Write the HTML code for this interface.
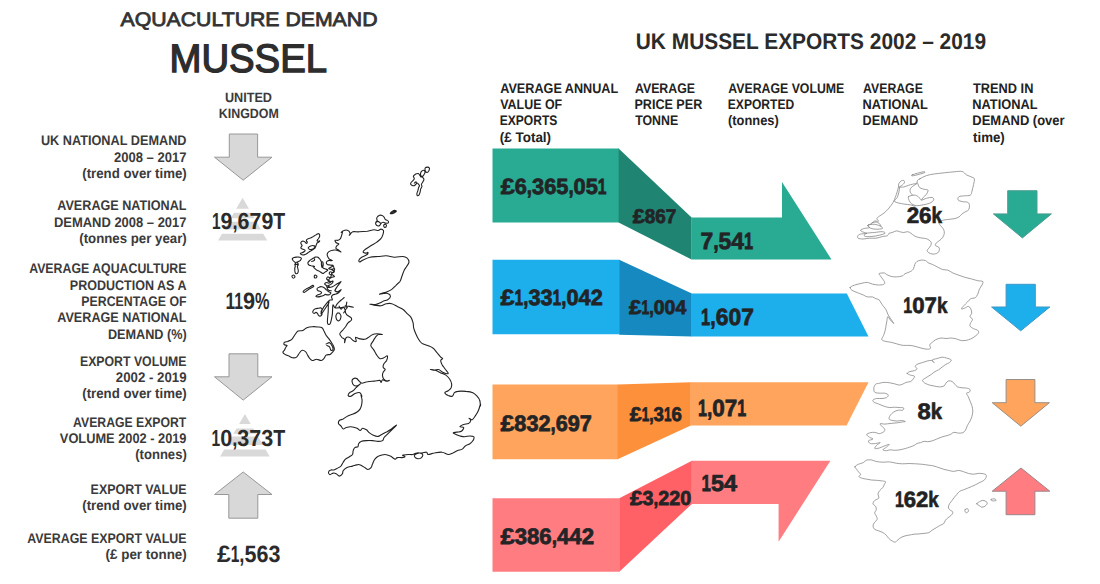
<!DOCTYPE html>
<html lang="en">
<head>
<meta charset="utf-8">
<title>Aquaculture Demand - Mussel</title>
<style>
html,body{margin:0;padding:0;background:#fff;}
body{width:1100px;height:584px;overflow:hidden;}
svg{display:block;font-family:"Liberation Sans",sans-serif;}
</style>
</head>
<body>
<svg width="1100" height="584" viewBox="0 0 1100 584">
<rect width="1100" height="584" fill="#ffffff"/>
<g id="shapes">
<polygon points="492.5,148.4 619.0,148.4 619.0,222.6 492.5,222.6" fill="#29AB93"/>
<polygon points="618.6,148.4 691.6,217.5 691.6,259.5 618.6,222.6" fill="#1F8572"/>
<polygon points="691.4,217.5 782.0,217.5 782.0,182.0 831.5,259.5 691.4,259.5" fill="#29AB93"/>
<polygon points="492.5,259.8 619.5,259.8 619.5,334.2 492.5,334.2" fill="#1DAFEC"/>
<polygon points="619.2,259.8 691.8,293.4 691.8,336.4 619.2,334.8" fill="#1589C0"/>
<polygon points="691.5,293.4 846.8,293.4 868.5,336.4 691.5,336.4" fill="#1DAFEC"/>
<polygon points="492.5,384.6 618.0,384.6 618.0,459.2 492.5,459.2" fill="#FEA45D"/>
<polygon points="617.6,384.6 690.8,382.2 690.8,425.4 617.6,459.2" fill="#FD903B"/>
<polygon points="690.5,382.2 868.5,382.2 846.6,425.4 690.5,425.4" fill="#FEA45D"/>
<polygon points="492.5,498.3 619.6,498.3 619.6,571.7 492.5,571.7" fill="#FF7D81"/>
<polygon points="619.3,498.3 691.9,460.8 691.9,503.9 619.3,571.7" fill="#FF6166"/>
<polygon points="691.6,460.8 830.4,460.8 778.6,541.7 778.6,503.9 691.6,503.9" fill="#FF7D81"/>
<polygon points="229.3,134.0 257.6,134.0 257.6,157.2 272.0,157.2 243.2,180.2 214.5,157.2 229.3,157.2" fill="#d8d8d8" stroke="#989898" stroke-width="1"/>
<polygon points="229.0,353.8 257.8,353.8 257.8,376.8 272.0,376.8 243.2,400.1 214.5,376.8 229.0,376.8" fill="#d8d8d8" stroke="#989898" stroke-width="1"/>
<polygon points="243.2,472.0 272.0,494.5 257.8,494.5 257.8,518.2 228.8,518.2 228.8,494.5 214.5,494.5" fill="#d8d8d8" stroke="#989898" stroke-width="1"/>
<polygon points="1007.7,190.7 1037.0,190.7 1037.0,213.9 1051.4,213.9 1022.4,237.9 993.4,213.9 1007.7,213.9" fill="#29AB93" stroke="#4f9d90" stroke-width="1"/>
<polygon points="1006.1,284.3 1035.3,284.3 1035.3,307.0 1049.8,307.0 1020.7,330.8 991.6,307.0 1006.1,307.0" fill="#1DAFEC" stroke="#3f97c4" stroke-width="1"/>
<polygon points="1006.1,379.5 1034.9,379.5 1034.9,402.7 1049.4,402.7 1020.8,426.2 992.2,402.7 1006.1,402.7" fill="#FEA45D" stroke="#9a8f86" stroke-width="1"/>
<polygon points="1021.0,468.0 1049.8,491.2 1034.9,491.2 1034.9,514.7 1006.1,514.7 1006.1,491.2 992.2,491.2" fill="#FF7D81" stroke="#9a8688" stroke-width="1"/>
<polygon points="242.6,197.7 242.6,197.7 249.0,208.8 236.2,208.8" fill="#d9d9d9"/><polygon points="233.9,212.8 251.3,212.8 254.4,218.3 230.8,218.3" fill="#d9d9d9"/><polygon points="228.8,221.8 256.4,221.8 260.9,229.6 224.3,229.6" fill="#d9d9d9"/><polygon points="222.0,233.7 263.2,233.7 267.2,240.6 218.0,240.6" fill="#d9d9d9"/>
<polygon points="244.9,414.0 244.9,414.0 250.7,424.0 239.1,424.0" fill="#d9d9d9"/><polygon points="236.5,428.4 253.3,428.4 256.5,433.8 233.3,433.8" fill="#d9d9d9"/><polygon points="231.7,436.5 258.1,436.5 263.0,445.0 226.8,445.0" fill="#d9d9d9"/><polygon points="224.2,449.4 265.6,449.4 269.7,456.4 220.1,456.4" fill="#d9d9d9"/>
</g>
<g id="maps" fill="none" stroke-linejoin="round" stroke-linecap="round">
<path d="M341.2,232.5C341.4,232.4 342.8,230.8 343.9,230.5C345.0,230.1 347.0,230.0 348.0,230.5C349.0,230.9 349.8,232.4 350.1,233.2C350.3,234.0 348.9,235.5 349.4,235.3C349.8,235.0 351.2,232.4 352.8,231.8C354.4,231.3 356.6,232.0 359.0,231.8C361.4,231.7 364.7,231.5 367.2,231.2C369.7,230.8 372.2,229.9 374.0,229.8C375.9,229.7 377.0,230.6 378.2,230.5C379.3,230.4 380.0,229.1 380.9,229.1C381.8,229.1 383.0,229.6 383.4,230.5C383.7,231.4 383.4,233.2 382.9,234.6C382.5,236.0 381.9,237.4 380.9,238.7C379.9,240.0 378.4,241.0 376.8,242.1C375.2,243.3 373.1,244.4 371.3,245.5C369.5,246.7 367.2,247.9 365.8,249.0C364.5,250.0 363.1,251.0 363.1,251.7C363.1,252.4 365.0,253.0 365.8,253.1C366.6,253.2 367.6,252.2 367.9,252.4C368.1,252.6 368.2,253.7 367.2,254.5C366.2,255.3 363.1,256.3 361.7,257.2C360.3,258.1 359.3,259.1 359.0,259.9C358.6,260.7 359.0,262.0 359.7,262.0C360.3,262.0 361.4,260.7 363.1,259.9C364.8,259.1 367.4,257.8 369.9,257.2C372.4,256.6 375.4,256.7 378.2,256.5C380.9,256.3 383.6,255.7 386.4,255.8C389.1,255.9 391.8,257.1 394.6,257.2C397.3,257.3 400.8,256.4 402.8,256.5C404.9,256.6 405.9,257.0 406.9,257.9C407.9,258.8 409.0,260.6 409.0,262.0C409.0,263.4 407.7,264.7 406.9,266.1C406.1,267.5 405.0,268.6 404.2,270.2C403.4,271.8 402.8,273.9 402.1,275.7C401.4,277.5 401.1,279.6 400.1,281.2C399.0,282.8 397.3,283.9 396.0,285.3C394.6,286.6 393.2,288.4 391.8,289.4C390.5,290.4 389.1,290.9 387.7,291.4C386.4,292.0 385.0,292.4 383.6,292.8C382.3,293.3 379.5,294.1 379.5,294.2C379.5,294.3 382.3,293.6 383.6,293.5C385.0,293.4 386.6,293.0 387.7,293.5C388.9,293.9 390.5,295.2 390.5,296.2C390.5,297.3 388.9,298.9 387.7,299.7C386.6,300.5 385.0,300.5 383.6,301.0C382.3,301.6 380.9,302.5 379.5,303.1C378.2,303.7 377.0,304.3 375.4,304.5C373.8,304.6 370.2,304.1 369.9,304.2C369.7,304.3 372.2,304.8 374.0,305.1C375.9,305.3 378.8,306.0 380.9,305.8C382.9,305.5 384.5,304.0 386.4,303.7C388.2,303.4 390.0,303.2 391.8,303.7C393.7,304.2 395.5,305.5 397.3,306.4C399.2,307.4 401.2,308.0 402.8,309.2C404.4,310.3 405.5,311.9 406.9,313.3C408.3,314.7 410.0,315.8 411.0,317.4C412.1,319.0 412.6,321.1 413.1,322.9C413.5,324.7 413.3,326.5 413.8,328.4C414.2,330.2 415.0,332.0 415.8,333.8C416.6,335.7 417.5,337.7 418.6,339.3C419.6,340.9 420.5,342.4 422.0,343.4C423.5,344.5 425.8,344.7 427.7,345.5C429.5,346.3 431.6,347.0 433.2,348.2C434.7,349.5 436.0,351.5 437.3,353.0C438.5,354.5 439.8,356.2 440.7,357.1C441.6,358.0 442.7,357.9 442.7,358.5C442.7,359.1 440.8,359.5 440.7,360.5C440.6,361.6 441.3,363.2 442.1,364.7C442.9,366.1 444.5,368.0 445.5,369.5C446.5,370.9 448.7,373.1 448.2,373.6C447.8,374.0 444.3,372.9 442.7,372.2C441.1,371.5 440.0,369.8 438.6,369.5C437.3,369.1 435.9,370.1 434.5,370.1C433.2,370.1 430.2,369.4 430.4,369.5C430.6,369.5 434.2,369.8 435.9,370.4C437.6,371.0 439.1,372.1 440.7,372.9C442.3,373.6 444.0,373.9 445.5,374.9C447.0,376.0 448.6,377.6 449.6,379.0C450.6,380.5 451.4,382.4 451.6,383.8C451.9,385.3 451.5,386.8 451.0,387.9C450.4,389.1 449.2,389.9 448.2,390.7C447.2,391.5 444.8,391.9 444.8,392.7C444.8,393.5 447.0,394.9 448.2,395.5C449.5,396.1 451.3,396.6 452.3,396.2C453.4,395.7 453.5,393.5 454.4,392.7C455.3,391.9 455.9,391.6 457.8,391.4C459.7,391.1 463.5,391.1 466.0,391.4C468.5,391.6 471.1,391.9 472.9,392.7C474.7,393.5 475.8,394.9 477.0,396.2C478.1,397.4 479.2,398.7 479.7,400.3C480.3,401.9 480.3,405.1 480.4,405.8C480.5,406.4 480.8,403.5 480.4,404.3C480.1,405.1 479.3,408.5 478.4,410.5C477.6,412.4 476.4,414.3 475.3,415.9C474.3,417.4 473.3,419.3 472.2,419.7C471.2,420.1 469.4,418.1 469.1,418.2C468.9,418.3 470.8,419.6 470.7,420.5C470.6,421.4 469.5,422.9 468.4,423.6C467.2,424.2 465.2,423.9 463.7,424.4C462.3,424.9 459.9,426.2 459.9,426.7C459.9,427.2 463.5,426.7 463.7,427.5C464.0,428.2 462.6,430.5 461.4,431.3C460.3,432.1 458.2,431.8 456.8,432.1C455.4,432.4 453.4,432.5 453.2,432.9C453.1,433.3 454.9,433.9 456.0,434.4C457.1,434.9 458.5,435.6 459.9,436.0C461.3,436.3 462.8,436.7 464.5,436.7C466.2,436.7 468.4,436.0 469.9,436.0C471.5,436.0 473.3,436.0 473.8,436.7C474.3,437.5 473.7,439.4 473.0,440.6C472.4,441.8 471.2,442.8 469.9,443.7C468.6,444.6 466.6,445.1 465.3,446.0C464.0,446.9 463.5,448.3 462.2,449.1C460.9,449.9 459.1,450.0 457.6,450.6C456.0,451.3 454.5,452.3 452.9,453.0C451.4,453.6 450.1,454.6 448.3,454.5C446.5,454.4 444.4,452.4 442.1,452.2C439.8,451.9 436.7,452.6 434.4,453.0C432.1,453.3 429.5,454.6 428.2,454.5C426.9,454.4 427.7,452.4 426.6,452.2C425.6,451.9 423.7,452.8 422.0,453.0C420.3,453.1 418.1,452.7 416.6,453.0C415.1,453.2 414.2,454.2 412.7,454.5C411.3,454.8 409.8,454.4 408.1,454.5C406.4,454.6 403.2,454.9 402.7,455.3C402.2,455.7 405.1,456.4 405.0,456.8C404.9,457.2 403.2,457.5 401.9,457.6C400.6,457.7 398.4,457.3 397.3,457.6C396.1,457.9 396.1,459.4 395.0,459.1C393.8,458.9 392.0,456.8 390.3,456.1C388.7,455.3 386.8,454.5 384.9,454.5C383.0,454.5 380.4,455.3 378.7,456.1C377.1,456.8 375.9,457.9 374.9,459.1C373.8,460.4 373.2,462.4 372.6,463.8C371.9,465.2 371.8,466.7 371.0,467.6C370.2,468.6 368.9,469.5 367.9,469.5C366.9,469.5 366.0,468.3 364.8,467.6C363.7,466.9 362.1,465.8 361.0,465.3C359.8,464.8 359.3,464.4 357.9,464.6C356.5,464.7 354.3,465.6 352.5,466.1C350.7,466.6 348.6,466.9 347.0,467.6C345.5,468.4 344.0,469.7 343.2,470.7C342.4,471.8 343.1,472.9 342.4,473.8C341.8,474.7 340.4,476.1 339.3,476.1C338.3,476.1 337.3,474.3 336.2,473.8C335.2,473.3 334.2,472.9 333.1,473.1C332.1,473.2 330.8,474.7 330.0,474.6C329.3,474.5 328.4,473.1 328.5,472.3C328.6,471.5 329.9,470.3 330.8,470.0C331.7,469.6 332.9,470.2 333.9,470.0C334.9,469.7 335.8,469.1 337.0,468.4C338.2,467.8 339.8,467.1 340.9,466.1C341.9,465.1 342.4,463.4 343.2,462.2C344.0,461.1 344.5,460.0 345.5,459.1C346.5,458.2 348.2,457.6 349.4,456.8C350.5,456.1 351.8,455.5 352.5,454.5C353.1,453.5 352.8,451.8 353.2,450.6C353.6,449.5 354.0,448.2 354.8,447.6C355.5,446.9 357.2,447.4 357.9,446.8C358.5,446.1 358.1,444.6 358.6,443.7C359.2,442.8 359.7,441.9 361.0,441.4C362.2,440.9 364.4,440.7 366.4,440.6C368.3,440.5 370.6,440.5 372.6,440.6C374.5,440.7 376.3,441.4 378.0,441.4C379.6,441.4 381.6,441.2 382.6,440.6C383.6,440.0 383.2,438.7 384.1,437.5C385.0,436.3 386.6,435.1 388.0,433.6C389.4,432.2 391.2,430.4 392.6,429.0C394.1,427.6 396.2,425.5 396.5,425.1C396.8,424.8 395.2,425.9 394.2,426.7C393.2,427.5 391.6,428.9 390.3,429.8C389.0,430.7 387.9,431.3 386.5,432.1C385.0,432.9 383.2,433.7 381.8,434.4C380.4,435.1 379.4,436.3 378.0,436.4C376.5,436.6 374.7,435.8 373.3,435.2C371.9,434.6 370.6,433.8 369.5,432.9C368.3,432.0 367.5,430.5 366.4,429.8C365.2,429.0 363.5,428.1 362.5,428.2C361.5,428.4 361.1,430.5 360.2,430.5C359.3,430.5 358.6,428.9 357.1,428.2C355.5,427.6 352.7,426.8 350.9,426.7C349.1,426.6 347.6,427.1 346.3,427.5C345.0,427.8 344.1,429.3 343.2,429.0C342.3,428.7 341.6,426.8 340.9,425.9C340.1,425.0 338.8,424.5 338.5,423.6C338.3,422.7 338.5,421.3 339.3,420.5C340.1,419.7 341.8,419.7 343.2,419.0C344.6,418.2 346.3,416.6 347.8,415.9C349.4,415.1 350.9,415.0 352.5,414.3C354.0,413.7 355.8,412.9 357.1,412.0C358.4,411.1 359.4,410.2 360.2,408.9C361.0,407.6 361.4,405.8 361.7,404.3C362.0,402.7 362.2,401.2 362.0,399.6C361.9,398.1 361.0,395.6 361.0,395.0C360.9,394.4 362.1,396.5 361.9,396.2C361.7,395.8 361.0,393.2 359.9,392.7C358.7,392.3 356.6,392.9 355.1,393.4C353.6,394.0 352.1,395.8 351.0,396.2C349.8,396.5 348.4,396.1 348.2,395.5C348.0,394.9 348.8,393.5 349.6,392.7C350.4,391.9 351.9,391.6 353.0,390.7C354.2,389.8 355.2,388.4 356.4,387.3C357.7,386.1 360.4,384.1 360.5,383.8C360.7,383.6 358.3,385.7 357.1,385.9C356.0,386.1 354.5,385.9 353.7,385.2C352.9,384.5 352.2,382.8 352.1,381.8C351.9,380.8 352.3,379.6 353.0,379.0C353.7,378.5 355.4,378.0 356.4,378.4C357.5,378.7 358.3,380.3 359.2,381.1C360.1,381.9 360.5,383.0 361.9,383.2C363.3,383.3 365.3,382.1 367.4,381.8C369.5,381.4 372.2,381.3 374.2,381.1C376.3,380.9 378.6,380.2 379.7,380.4C380.9,380.6 380.6,382.6 381.1,382.5C381.6,382.4 381.7,380.0 382.5,379.7C383.3,379.5 384.7,381.0 385.9,381.1C387.0,381.2 389.1,380.4 389.3,380.4C389.5,380.4 388.2,381.3 387.3,381.1C386.3,380.9 384.6,380.0 383.8,379.0C383.0,378.1 382.6,376.8 382.5,375.6C382.4,374.5 382.7,373.2 383.2,372.2C383.6,371.2 385.2,370.3 385.2,369.5C385.2,368.7 383.4,368.3 383.2,367.4C382.9,366.5 383.3,365.1 383.8,364.0C384.4,362.8 386.0,361.9 386.6,360.5C387.1,359.2 387.7,356.2 387.3,355.8C386.8,355.3 385.1,357.4 383.8,357.8C382.6,358.3 381.0,359.1 379.7,358.5C378.5,357.9 377.3,355.9 376.3,354.4C375.3,352.9 374.5,351.1 373.6,349.6C372.6,348.1 370.9,346.8 370.8,345.5C370.7,344.1 372.1,342.7 372.9,341.4C373.6,340.0 374.5,338.4 375.4,337.3C376.3,336.1 377.0,335.0 378.2,334.5C379.3,334.1 382.5,334.6 382.3,334.5C382.0,334.4 378.4,333.8 376.8,333.8C375.2,333.8 374.0,333.9 372.7,334.5C371.3,335.1 369.9,336.5 368.6,337.3C367.2,338.1 366.1,339.1 364.5,339.3C362.9,339.5 360.5,339.0 359.0,338.6C357.5,338.3 356.0,336.8 355.5,337.3C355.1,337.7 356.6,340.8 356.2,341.4C355.9,341.9 354.6,341.4 353.5,340.7C352.4,340.0 350.6,337.7 349.4,337.3C348.1,336.8 346.8,337.0 346.0,337.9C345.2,338.9 344.8,342.5 344.6,342.7C344.4,343.0 345.0,340.2 344.6,339.3C344.1,338.4 342.6,338.2 341.8,337.3C341.1,336.3 339.7,335.0 339.8,333.8C339.9,332.7 341.6,331.6 342.5,330.4C343.4,329.3 344.4,328.2 345.3,327.0C346.2,325.7 347.0,324.0 348.0,322.9C349.0,321.7 351.0,321.1 351.4,320.1C351.9,319.2 351.6,318.3 350.8,317.4C350.0,316.5 347.6,315.8 346.6,314.7C345.7,313.5 345.2,311.8 345.3,310.5C345.4,309.3 347.6,307.7 347.3,307.1C347.1,306.6 345.3,307.0 343.9,307.1C342.5,307.2 340.6,307.7 339.1,307.8C337.6,307.9 336.0,308.3 335.0,307.8C334.0,307.4 333.4,303.9 332.9,305.1C332.5,306.2 332.7,311.6 332.3,314.7C331.8,317.7 331.0,322.2 330.2,323.6C329.4,324.9 327.8,324.8 327.5,322.9C327.1,320.9 327.9,315.6 328.2,311.9C328.4,308.3 328.1,303.0 328.8,301.0C329.5,299.0 331.8,300.6 332.3,299.9C332.7,299.2 331.4,297.8 331.5,297.0C331.7,296.2 332.3,295.3 333.0,294.8C333.7,294.3 334.9,294.5 335.9,294.1C336.9,293.7 338.0,293.4 338.8,292.6C339.7,291.9 341.2,289.8 341.0,289.7C340.8,289.6 338.3,291.8 337.4,291.9C336.4,292.0 335.3,291.2 335.2,290.5C335.1,289.7 336.0,288.5 336.6,287.5C337.2,286.6 338.1,285.6 338.8,284.6C339.5,283.7 340.9,282.1 341.0,281.7C341.1,281.4 340.4,282.0 339.5,282.5C338.7,282.9 337.1,283.9 335.9,284.6C334.7,285.4 333.4,286.3 332.3,286.8C331.2,287.3 330.3,287.5 329.4,287.5C328.4,287.5 326.6,287.2 326.5,286.8C326.3,286.5 327.8,285.8 328.6,285.4C329.5,284.9 330.8,284.6 331.5,283.9C332.3,283.2 333.1,281.4 333.0,281.0C332.9,280.6 331.7,281.7 330.8,281.7C330.0,281.7 328.2,281.5 327.9,281.0C327.7,280.5 328.8,279.4 329.4,278.8C330.0,278.2 330.7,277.7 331.5,277.4C332.4,277.0 334.2,277.0 334.5,276.6C334.7,276.3 333.5,275.7 333.0,275.2C332.5,274.7 331.4,274.3 331.5,273.7C331.7,273.1 333.2,272.4 333.7,271.5C334.2,270.7 334.8,269.0 334.5,268.6C334.1,268.3 332.5,269.4 331.5,269.4C330.6,269.4 328.8,269.0 328.6,268.6C328.5,268.3 330.1,267.7 330.8,267.2C331.5,266.7 333.1,266.1 333.0,265.7C332.9,265.4 331.1,265.2 330.1,265.0C329.1,264.8 327.8,264.8 327.2,264.3C326.6,263.8 326.2,262.7 326.5,262.1C326.7,261.5 327.7,260.9 328.6,260.6C329.6,260.4 332.2,260.9 332.3,260.6C332.4,260.4 330.1,259.8 329.4,259.2C328.6,258.6 328.3,257.8 327.9,257.0C327.5,256.2 327.1,254.9 327.2,254.1C327.3,253.2 327.9,252.5 328.6,251.9C329.4,251.3 330.5,250.8 331.5,250.5C332.6,250.1 334.0,249.9 335.2,250.0C336.4,250.1 337.8,250.6 338.8,250.9C339.8,251.2 341.1,252.1 341.0,251.9C340.9,251.7 338.9,250.3 338.1,249.7C337.2,249.1 336.2,248.9 335.9,248.3C335.7,247.7 336.2,246.8 336.6,246.1C337.1,245.4 338.9,244.5 338.8,243.9C338.7,243.3 336.5,243.1 335.9,242.5C335.3,241.8 334.8,240.6 335.2,240.3C335.5,239.9 337.2,240.5 338.1,240.3C338.9,240.0 339.7,239.7 340.3,238.8C340.9,238.0 341.4,236.4 341.7,235.2C342.1,234.0 342.5,232.0 342.5,231.5C342.4,231.1 340.9,232.7 341.2,232.5Z M338.4,312.9C339.1,312.9 340.1,313.9 340.5,314.7C340.9,315.4 341.1,316.4 340.9,317.4C340.7,318.4 340.1,319.9 339.5,320.4C338.9,320.9 337.9,320.9 337.3,320.4C336.7,319.9 336.1,318.4 336.0,317.4C335.8,316.4 336.0,315.1 336.4,314.4C336.8,313.6 337.7,312.8 338.4,312.9Z M328.8,301.1C328.5,301.0 327.8,301.9 327.2,302.6C326.6,303.3 325.9,304.2 325.2,305.2C324.5,306.1 323.7,307.2 323.1,308.2C322.5,309.3 321.9,310.4 321.6,311.3C321.2,312.3 320.9,313.7 321.1,313.9C321.2,314.1 322.0,313.1 322.6,312.4C323.2,311.6 324.0,310.3 324.7,309.3C325.4,308.2 326.0,307.2 326.7,306.2C327.4,305.2 328.4,304.0 328.8,303.1C329.1,302.3 329.0,301.1 328.8,301.1Z M313.4,310.3C313.8,309.7 314.6,309.1 315.4,308.8C316.3,308.4 317.6,308.4 318.5,308.2C319.4,308.1 320.0,307.6 320.6,307.7C321.2,307.9 322.0,308.6 322.1,309.3C322.2,310.0 321.1,311.1 321.1,311.8C321.1,312.6 322.2,313.2 322.1,313.9C322.0,314.6 321.2,315.7 320.6,316.0C320.0,316.2 319.0,315.9 318.5,315.4C318.0,315.0 317.9,313.9 317.5,313.4C317.0,312.9 316.4,312.4 315.9,312.4C315.4,312.4 314.9,313.4 314.4,313.4C313.9,313.4 313.0,312.9 312.8,312.4C312.7,311.8 312.9,310.9 313.4,310.3Z M285.0,342.1C285.6,341.8 286.6,341.8 287.7,341.4C288.9,340.9 290.7,340.3 291.8,339.3C293.0,338.3 293.6,336.6 294.6,335.2C295.6,333.8 296.6,331.9 298.0,331.1C299.4,330.3 301.3,331.0 302.8,330.4C304.3,329.8 305.3,328.3 306.9,327.7C308.5,327.1 310.6,326.8 312.4,326.7C314.2,326.6 316.3,326.8 317.9,327.0C319.5,327.1 321.0,327.0 322.0,327.7C323.0,328.4 323.4,329.8 324.0,331.1C324.7,332.4 325.3,333.9 326.1,335.2C326.9,336.5 327.9,337.4 328.8,338.6C329.7,339.9 330.8,341.5 331.6,342.7C332.4,344.0 333.2,345.0 333.6,346.2C334.1,347.3 334.5,348.6 334.3,349.6C334.1,350.6 332.9,351.5 332.3,352.3C331.6,353.1 331.2,353.9 330.2,354.4C329.2,354.8 327.1,354.4 326.1,355.1C325.1,355.8 324.8,357.6 324.0,358.5C323.2,359.4 322.6,360.4 321.3,360.5C320.0,360.7 318.0,359.2 316.5,359.2C315.0,359.2 313.5,360.7 312.4,360.5C311.3,360.4 310.5,359.4 309.7,358.5C308.9,357.6 308.3,356.2 307.6,355.1C306.9,353.9 306.5,352.4 305.5,351.6C304.6,350.8 303.2,350.0 302.1,350.3C301.1,350.5 300.3,351.9 299.4,353.0C298.5,354.2 297.8,356.3 296.6,357.1C295.5,357.9 293.9,358.0 292.5,357.8C291.2,357.6 289.7,356.3 288.4,355.8C287.2,355.2 285.9,355.0 285.0,354.4C284.1,353.8 283.1,353.0 282.9,352.3C282.8,351.6 283.9,351.1 284.3,350.3C284.8,349.5 285.2,348.3 285.7,347.5C286.1,346.7 287.3,345.9 287.1,345.5C286.8,345.0 284.8,345.2 284.3,344.8C283.8,344.4 283.8,343.6 283.9,343.2C284.0,342.7 284.4,342.4 285.0,342.1Z M326.1,344.1C326.7,343.9 328.5,342.4 329.5,342.7C330.5,343.1 331.7,345.0 332.3,346.2C332.8,347.3 333.2,348.9 332.9,349.6C332.7,350.3 331.5,350.7 330.9,350.3C330.3,349.8 330.2,347.6 329.5,346.8C328.8,346.1 327.2,345.7 326.8,345.5 M318.4,233.6C318.0,233.6 317.3,234.1 316.7,234.4C316.0,234.8 315.3,235.3 314.5,235.7C313.8,236.1 313.1,236.6 312.4,237.0C311.7,237.4 311.0,237.8 310.3,238.1C309.5,238.4 308.7,238.5 308.1,238.7C307.5,238.9 307.1,239.2 306.8,239.6C306.6,239.9 306.3,240.4 306.4,240.8C306.5,241.3 307.3,241.7 307.3,242.1C307.3,242.6 306.8,243.4 306.4,243.4C306.1,243.4 305.6,242.5 305.1,242.1C304.7,241.8 304.3,241.4 303.8,241.3C303.3,241.1 302.6,241.1 302.1,241.3C301.6,241.5 301.0,242.1 300.8,242.6C300.7,243.1 301.1,243.8 301.3,244.3C301.5,244.8 302.1,245.1 302.1,245.6C302.1,246.0 301.5,246.4 301.3,246.8C301.1,247.3 300.7,247.8 300.8,248.1C301.0,248.5 301.6,248.8 302.1,249.0C302.6,249.2 303.3,249.2 303.8,249.4C304.3,249.6 305.1,249.9 305.1,250.3C305.2,250.6 304.8,251.1 304.3,251.5C303.8,252.0 302.8,252.5 302.1,252.8C301.5,253.1 300.6,253.0 300.4,253.3C300.2,253.5 300.4,253.8 300.8,254.1C301.3,254.4 302.3,254.9 303.0,255.0C303.7,255.0 304.4,254.8 305.1,254.5C305.8,254.3 306.6,253.7 307.3,253.3C307.9,252.8 308.3,252.4 309.0,252.0C309.6,251.5 310.4,251.1 311.1,250.7C311.8,250.3 312.6,249.8 313.3,249.4C313.9,249.0 314.5,248.6 315.0,248.1C315.4,247.6 315.6,247.0 315.8,246.4C316.0,245.8 316.0,245.3 316.3,244.7C316.5,244.1 316.7,243.4 317.1,243.0C317.5,242.6 318.4,242.5 318.8,242.1C319.2,241.8 319.7,241.0 319.7,240.8C319.6,240.7 318.8,241.3 318.4,241.3C318.0,241.3 317.2,241.2 317.1,240.8C317.0,240.5 317.6,239.7 318.0,239.1C318.3,238.6 319.0,238.0 319.2,237.4C319.5,236.8 319.7,236.2 319.7,235.7C319.7,235.2 319.5,234.5 319.2,234.2C319.0,233.8 318.8,233.5 318.4,233.6Z M308.5,247.3C308.9,246.8 309.9,246.3 310.7,246.0C311.5,245.7 312.5,245.5 313.3,245.6C314.0,245.6 314.8,246.0 315.0,246.4C315.1,246.8 314.6,247.6 314.1,248.1C313.6,248.6 312.7,249.2 312.0,249.4C311.3,249.6 310.4,249.5 309.8,249.4C309.3,249.3 308.8,248.9 308.5,248.5C308.3,248.2 308.2,247.7 308.5,247.3Z M292.3,258.8C292.4,258.3 293.3,257.8 294.0,257.5C294.7,257.3 295.7,257.2 296.6,257.1C297.4,257.0 298.3,257.0 299.1,257.1C299.9,257.3 301.0,257.5 301.3,258.0C301.6,258.4 301.1,259.2 300.8,259.7C300.6,260.2 300.1,260.6 299.6,261.0C299.1,261.3 298.3,261.6 297.8,261.8C297.3,262.0 296.6,262.0 296.6,262.2C296.6,262.5 297.6,262.7 297.8,263.1C298.1,263.5 298.3,264.3 298.3,264.8C298.2,265.3 297.5,265.5 297.4,266.1C297.3,266.7 297.7,267.5 297.8,268.2C298.0,269.0 298.3,270.0 298.3,270.8C298.3,271.6 298.1,272.4 297.8,272.9C297.6,273.4 297.0,273.8 296.6,273.8C296.1,273.8 295.6,273.4 295.3,272.9C295.0,272.4 294.9,271.6 294.8,270.8C294.8,270.0 294.8,269.0 294.8,268.2C294.9,267.5 295.3,266.7 295.3,266.1C295.3,265.5 294.8,265.0 294.8,264.4C294.9,263.8 295.8,263.1 295.7,262.7C295.6,262.2 294.8,262.2 294.4,261.8C294.0,261.5 293.5,261.0 293.1,260.5C292.8,260.0 292.1,259.3 292.3,258.8Z M295.3,264.4 L297.8,264.4 M292.0,275.9C292.2,275.4 293.5,275.0 294.0,275.2C294.5,275.4 295.1,276.6 294.9,277.1C294.7,277.6 293.5,278.3 293.0,278.1C292.5,277.9 291.8,276.4 292.0,275.9Z M308.1,262.2C308.4,261.7 309.3,261.0 309.8,260.5C310.4,260.0 310.9,259.7 311.5,259.2C312.2,258.8 313.0,258.3 313.7,258.0C314.3,257.6 314.8,257.3 315.4,257.1C316.0,257.0 316.9,256.9 317.5,257.1C318.2,257.3 318.8,257.9 319.2,258.4C319.7,258.9 320.2,259.5 320.5,260.1C320.9,260.7 321.2,261.5 321.4,262.2C321.6,263.0 321.7,264.0 321.8,264.8C322.0,265.6 322.0,266.4 322.2,267.0C322.5,267.5 323.0,267.9 323.5,268.2C324.1,268.6 325.0,268.8 325.7,269.1C326.4,269.4 327.7,269.6 327.8,270.0C328.0,270.3 327.0,270.9 326.5,271.2C326.0,271.6 325.3,271.7 324.8,272.1C324.3,272.4 324.0,273.2 323.5,273.4C323.0,273.5 322.4,273.2 321.8,272.9C321.2,272.7 320.7,272.0 320.1,271.7C319.5,271.3 319.0,271.1 318.4,270.8C317.8,270.5 317.3,270.3 316.7,270.0C316.1,269.6 315.5,269.1 315.0,268.7C314.5,268.2 313.8,267.7 313.7,267.4C313.6,267.0 314.7,266.7 314.5,266.5C314.4,266.3 313.4,266.2 312.8,266.1C312.3,266.0 311.7,265.8 311.1,265.7C310.5,265.5 309.9,265.5 309.4,265.2C308.9,265.0 308.3,264.5 308.1,264.0C307.9,263.5 307.8,262.8 308.1,262.2Z M313.7,258.0C313.9,258.3 314.8,259.3 314.7,259.8C314.7,260.4 313.9,260.8 313.3,261.0C312.8,261.3 311.9,261.3 311.6,261.4 M321.6,262.2C321.7,261.5 322.7,261.5 322.9,262.2C323.2,263.0 323.1,265.7 322.9,266.5C322.7,267.3 322.0,267.7 321.8,267.0C321.6,266.2 321.4,263.0 321.6,262.2Z M314.8,275.2C315.2,274.9 316.5,275.5 316.7,275.9C317.0,276.3 316.6,277.4 316.3,277.7C315.9,277.9 314.8,278.1 314.5,277.7C314.3,277.2 314.5,275.5 314.8,275.2Z M303.6,290.8C304.1,290.3 305.1,289.5 306.2,288.9C307.2,288.3 308.7,287.8 309.8,287.2C310.9,286.6 312.2,285.5 312.8,285.4C313.5,285.3 313.9,286.2 313.6,286.7C313.2,287.1 311.8,287.7 310.8,288.2C309.8,288.8 308.7,289.3 307.7,290.0C306.7,290.6 305.4,292.0 304.6,292.3C303.9,292.7 303.5,292.3 303.3,292.0C303.1,291.8 303.1,291.3 303.6,290.8Z M317.0,288.7C317.1,288.1 318.2,287.5 319.0,287.2C319.8,286.8 320.7,286.6 321.6,286.7C322.4,286.8 323.4,287.2 324.2,287.7C324.9,288.2 325.4,289.1 326.2,289.7C327.0,290.4 328.0,291.3 328.8,291.8C329.5,292.3 330.7,292.4 330.8,292.8C331.0,293.3 330.4,294.0 329.8,294.4C329.2,294.7 328.0,294.9 327.2,294.9C326.5,294.9 325.8,294.3 325.2,294.4C324.6,294.5 324.4,295.1 323.6,295.4C322.9,295.7 321.5,296.2 320.6,296.4C319.6,296.7 318.8,296.9 318.0,296.9C317.2,296.9 316.0,296.8 315.9,296.4C315.8,296.1 316.8,295.3 317.5,294.9C318.2,294.5 319.4,294.4 320.0,294.1C320.7,293.7 321.6,293.3 321.6,292.8C321.6,292.4 320.6,291.6 320.0,291.3C319.4,290.9 318.5,291.2 318.0,290.8C317.5,290.3 316.8,289.3 317.0,288.7Z M332.9,265.1C333.1,265.6 334.1,267.4 333.9,268.2C333.7,268.9 331.8,269.2 331.9,269.7C331.9,270.2 334.3,270.7 334.4,271.2C334.6,271.8 333.6,272.7 332.9,272.8C332.2,272.9 330.9,271.6 330.3,271.8C329.7,271.9 329.1,273.2 329.3,273.8C329.5,274.4 331.3,274.8 331.3,275.4C331.4,276.0 330.4,277.2 329.8,277.4C329.2,277.7 328.3,276.6 327.7,276.9C327.2,277.2 326.6,278.4 326.7,279.0C326.9,279.6 328.1,280.0 328.8,280.5C329.5,281.0 330.8,281.6 330.8,282.0C330.8,282.5 329.5,283.0 328.8,283.1C328.0,283.2 326.9,282.4 326.2,282.6C325.5,282.7 324.6,283.6 324.7,284.1C324.8,284.6 326.0,285.2 326.7,285.6C327.5,286.1 329.2,286.2 329.3,286.7C329.4,287.1 327.3,287.6 327.2,288.2C327.1,288.8 328.1,289.8 328.8,290.3C329.5,290.7 330.9,290.7 331.3,290.8 M340.6,282.0C340.1,282.7 338.5,284.8 337.5,286.2C336.6,287.5 335.2,289.4 334.9,290.3C334.7,291.1 335.4,291.0 336.0,291.3C336.6,291.5 337.7,292.1 338.5,291.8C339.4,291.5 340.7,290.1 341.1,289.7 M340.3,282.3 L337.2,286.5 M344.2,297.5C343.6,298.0 341.8,299.4 340.6,300.5C339.4,301.7 337.9,303.0 337.0,304.1C336.1,305.3 335.7,306.7 335.5,307.2 M343.9,297.8 L340.3,300.8 M339.1,306.2C339.4,306.7 340.4,309.1 341.1,309.3C341.8,309.4 342.5,307.0 343.2,307.2C343.9,307.4 345.1,309.4 345.2,310.3C345.3,311.2 343.9,312.4 343.7,312.9 M345.2,305.7C345.9,305.8 348.0,306.1 349.3,306.4C350.7,306.7 352.8,307.1 353.4,307.2 M346.8,302.1 L346.2,305.7 M414.3,455.7C414.5,455.1 415.6,454.2 416.6,453.7C417.6,453.3 419.4,452.9 420.5,453.1C421.5,453.3 422.7,454.2 422.8,455.0C422.9,455.7 422.0,457.1 421.2,457.8C420.5,458.4 419.1,458.8 418.1,458.8C417.2,458.8 416.2,458.3 415.5,457.8C414.9,457.2 414.1,456.4 414.3,455.7Z M377.7,216.5C378.2,216.0 378.9,215.4 379.6,215.2C380.4,215.1 381.5,215.2 382.2,215.5C383.0,215.8 383.6,216.5 384.1,217.2C384.6,217.8 384.6,218.8 385.2,219.3C385.7,219.9 386.8,219.9 387.3,220.4C387.9,220.8 388.6,221.4 388.6,221.9C388.6,222.4 388.0,223.1 387.3,223.2C386.7,223.3 385.5,222.8 384.8,222.7C384.0,222.5 383.5,222.1 382.8,222.3C382.2,222.4 381.5,223.0 380.9,223.6C380.4,224.1 380.2,225.1 379.6,225.5C379.1,225.9 378.1,226.0 377.5,225.8C376.8,225.6 376.1,224.8 375.8,224.2C375.5,223.6 375.6,222.9 375.8,222.3C376.0,221.7 376.9,221.0 377.1,220.4C377.2,219.7 376.6,219.1 376.7,218.4C376.8,217.8 377.2,217.1 377.7,216.5Z M376.0,222.4C376.3,222.3 377.0,221.4 377.7,221.4C378.4,221.4 379.5,222.3 380.0,222.7C380.5,223.1 380.7,223.5 380.8,223.7 M383.9,224.9C384.2,224.5 385.2,224.1 385.7,224.2C386.1,224.4 386.5,225.2 386.4,225.8C386.4,226.3 385.6,227.3 385.2,227.4C384.7,227.6 384.1,227.0 383.9,226.5C383.7,226.1 383.6,225.3 383.9,224.9Z M390.3,213.3C390.4,212.9 391.7,211.6 392.5,211.1C393.3,210.6 394.4,210.3 395.0,210.4C395.7,210.4 396.4,211.0 396.3,211.4C396.2,211.8 395.2,212.3 394.4,212.7C393.7,213.1 392.5,213.6 391.8,213.7C391.2,213.8 390.2,213.7 390.3,213.3Z M391.2,212.9 L395.4,211.0 M425.2,168.0C425.6,167.3 426.9,167.1 427.5,167.1C428.2,167.1 429.1,167.3 429.3,168.0C429.6,168.6 429.2,170.2 428.8,170.9C428.5,171.7 427.7,172.4 427.2,172.5C426.6,172.5 425.8,172.1 425.5,171.3C425.2,170.6 424.9,168.7 425.2,168.0Z M422.0,170.9C422.6,170.5 423.5,170.1 423.9,170.3C424.4,170.5 425.0,171.5 425.0,172.2C425.0,173.0 424.4,174.1 423.9,174.8C423.5,175.5 422.9,176.4 422.4,176.4C421.9,176.5 421.0,175.8 420.7,175.2C420.5,174.6 420.5,173.6 420.7,172.8C421.0,172.1 421.5,171.3 422.0,170.9Z M418.2,173.5C417.5,173.4 416.4,173.7 415.6,174.1C414.8,174.6 413.6,175.3 413.4,176.1C413.2,176.8 414.4,177.9 414.3,178.6C414.3,179.4 413.6,179.9 413.0,180.6C412.5,181.2 411.5,181.8 411.1,182.5C410.7,183.1 410.5,183.9 410.8,184.4C411.2,184.9 412.3,185.6 413.0,185.7C413.8,185.8 414.6,185.5 415.2,185.0C415.9,184.6 416.4,183.3 416.9,183.1C417.4,182.9 417.7,183.3 418.2,183.8C418.6,184.2 419.4,185.0 419.5,185.7C419.5,186.3 418.8,186.8 418.6,187.6C418.3,188.5 418.1,189.8 417.8,190.8C417.5,191.8 416.9,192.8 416.9,193.7C416.8,194.5 417.2,195.5 417.5,195.7C417.9,195.9 418.6,195.5 419.1,194.9C419.5,194.3 419.8,193.1 420.1,192.1C420.4,191.1 420.4,189.9 420.7,188.9C421.1,187.9 421.9,187.1 422.0,186.3C422.1,185.6 421.2,185.2 421.4,184.4C421.5,183.7 422.5,182.7 422.9,181.8C423.4,181.0 424.0,180.0 423.9,179.3C423.9,178.5 423.2,177.8 422.7,177.3C422.1,176.9 421.3,177.1 420.7,176.7C420.2,176.3 419.9,175.3 419.5,174.8C419.0,174.2 418.8,173.6 418.2,173.5Z M414.3,183.1C414.6,182.9 415.6,181.7 416.0,181.8C416.3,181.9 416.4,183.4 416.5,183.8" stroke="#222" stroke-width="1.1"/>
<path d="M919.9,178.8C921.4,178.0 924.0,176.4 926.4,175.6C928.9,174.8 931.6,174.4 934.6,173.9C937.5,173.5 941.1,173.2 944.3,172.8C947.6,172.5 951.1,172.0 954.1,171.8C957.0,171.6 960.2,171.0 962.2,171.5C964.2,172.0 964.6,173.8 966.3,174.8C967.9,175.7 970.6,176.5 972.0,177.2C973.3,177.9 974.1,177.6 974.4,178.8C974.7,180.0 974.0,182.5 973.6,184.5C973.2,186.5 972.5,189.3 972.0,191.0C971.4,192.8 971.7,194.3 970.3,195.1C969.0,195.9 965.7,195.6 963.8,195.9C961.9,196.2 959.9,196.0 958.9,196.7C958.0,197.4 957.6,199.1 958.1,200.0C958.7,200.8 960.6,201.2 962.2,201.6C963.8,202.0 966.7,201.7 967.9,202.4C969.1,203.1 969.4,204.4 969.5,205.7C969.6,206.9 969.2,208.8 968.7,209.7C968.2,210.7 967.3,210.7 966.3,211.3C965.2,212.0 963.4,212.8 962.2,213.8C961.0,214.7 960.3,216.2 958.9,217.0C957.6,217.8 956.0,218.3 954.1,218.7C952.2,219.1 949.5,219.2 947.6,219.5C945.7,219.7 944.2,219.9 942.7,220.3C941.2,220.7 939.0,221.1 938.6,221.9C938.2,222.7 939.4,223.9 940.2,225.2C941.1,226.4 942.8,227.9 943.5,229.2C944.2,230.6 944.4,231.9 944.3,233.3C944.2,234.6 943.5,236.1 942.7,237.4C941.9,238.6 940.5,239.7 939.4,240.6C938.3,241.6 936.9,242.2 936.2,243.0C935.5,243.9 935.0,244.8 935.4,245.5C935.8,246.2 937.9,246.4 938.6,247.1C939.3,247.8 939.6,248.6 939.4,249.6C939.3,250.5 938.9,252.0 937.8,252.8C936.7,253.6 934.4,254.1 932.9,254.1C931.4,254.1 929.8,253.4 928.9,252.8C927.9,252.2 927.1,251.3 927.2,250.4C927.4,249.4 929.0,248.2 929.7,247.1C930.4,246.0 931.2,244.8 931.3,243.9C931.4,242.9 931.2,242.2 930.5,241.4C929.8,240.6 928.5,239.5 927.2,239.0C926.0,238.4 924.7,238.4 923.2,238.2C921.7,237.9 919.8,237.8 918.3,237.4C916.8,237.0 915.4,236.4 914.2,235.7C913.0,235.1 912.1,234.0 911.0,233.3C909.9,232.6 908.9,231.8 907.7,231.7C906.5,231.5 905.0,232.5 903.7,232.5C902.3,232.5 900.8,231.9 899.6,231.7C898.4,231.4 897.6,230.7 896.3,230.9C895.1,231.0 893.5,232.1 892.3,232.5C891.1,232.9 889.8,232.8 889.0,233.3C888.2,233.8 888.5,235.2 887.4,235.7C886.3,236.3 884.4,236.1 882.5,236.5C880.6,237.0 878.2,237.9 876.0,238.2C873.8,238.4 871.7,238.0 869.5,238.2C867.3,238.3 864.9,239.0 863.0,239.0C861.1,239.0 859.0,238.7 858.1,238.2C857.3,237.6 857.4,236.4 857.8,235.7C858.2,235.1 859.2,234.5 860.6,234.1C862.0,233.7 866.0,233.7 866.3,233.3C866.5,232.9 863.1,232.2 862.2,231.7C861.2,231.1 860.2,230.6 860.6,230.0C861.0,229.5 863.1,228.8 864.6,228.4C866.1,228.0 869.0,228.1 869.5,227.6C870.1,227.1 867.5,225.8 867.9,225.2C868.3,224.5 870.9,224.2 872.0,223.5C873.0,222.9 873.3,221.5 874.4,221.1C875.5,220.7 878.0,221.5 878.5,221.1C878.9,220.7 876.7,219.5 876.8,218.7C877.0,217.8 878.0,217.2 879.3,216.2C880.5,215.3 882.5,214.3 884.1,213.0C885.8,211.6 887.5,209.9 889.0,208.1C890.5,206.3 892.0,204.3 893.1,202.4C894.2,200.5 894.9,198.5 895.5,196.7C896.2,194.9 896.7,193.5 897.2,191.8C897.6,190.2 898.2,188.3 898.5,187.0C898.7,185.6 898.3,184.7 898.8,183.7C899.2,182.7 900.4,181.5 901.2,180.9C902.0,180.4 903.1,180.2 903.7,180.4C904.2,180.7 904.7,181.7 904.5,182.6C904.2,183.4 902.8,184.6 902.0,185.3C901.2,186.1 899.3,186.7 899.6,187.0C899.9,187.2 902.2,187.2 903.7,187.0C905.1,186.7 907.0,185.8 908.5,185.3C910.0,184.9 911.2,184.5 912.6,184.2C914.0,183.8 915.9,183.8 916.7,183.2C917.5,182.6 916.9,181.2 917.5,180.4C918.0,179.7 918.4,179.6 919.9,178.8Z M899.6,187.0C899.5,187.9 899.2,190.9 898.8,192.6C898.4,194.4 897.8,196.0 897.2,197.5C896.5,199.0 893.6,200.5 894.7,201.6C895.8,202.7 901.1,203.5 903.7,204.0C906.2,204.6 908.3,204.4 910.2,204.8C912.1,205.2 914.2,206.2 915.0,206.5 M908.5,196.7C909.3,195.8 912.6,195.1 914.2,195.1C915.9,195.1 917.1,195.9 918.3,196.7C919.5,197.5 920.2,199.7 921.5,200.0C922.9,200.2 924.7,198.7 926.4,198.3C928.2,197.9 930.9,197.2 932.1,197.5C933.3,197.8 934.1,199.0 933.7,200.0C933.3,200.9 931.4,202.4 929.7,203.2C927.9,204.0 925.3,204.4 923.2,204.8C921.0,205.2 918.6,205.8 916.7,205.7C914.8,205.5 913.0,204.8 911.8,204.0C910.6,203.2 909.9,202.0 909.3,200.8C908.8,199.6 907.7,197.7 908.5,196.7Z M917.5,182.9C917.9,183.7 918.7,186.7 919.9,187.8C921.1,188.8 923.4,189.0 924.8,189.4C926.2,189.8 927.8,189.4 928.0,190.2C928.3,191.0 927.2,193.0 926.4,194.3C925.6,195.5 924.0,196.6 923.2,197.5C922.4,198.5 921.8,199.6 921.5,200.0 M916.7,183.7C915.7,184.4 912.1,186.4 911.0,187.8C909.9,189.1 909.9,190.6 910.2,191.8C910.4,193.0 912.2,194.5 912.6,195.1 M912.3,174.8C913.9,174.1 921.2,172.2 923.2,171.8C925.1,171.5 925.8,172.2 924.1,172.8C922.5,173.5 915.4,175.4 913.4,175.7C911.4,176.1 910.7,175.4 912.3,174.8Z M866.3,233.3C867.9,232.7 871.7,232.8 874.4,232.5C877.1,232.2 880.8,231.5 882.5,231.7C884.3,231.8 885.5,232.7 885.0,233.3C884.4,233.9 881.6,234.7 879.3,235.2C877.0,235.8 873.6,236.4 871.1,236.5C868.7,236.7 865.4,236.8 864.6,236.2C863.8,235.7 864.6,233.9 866.3,233.3Z M867.9,225.2C868.6,224.5 872.4,224.2 874.4,224.3C876.4,224.5 878.7,225.3 880.1,226.0C881.4,226.7 883.2,227.9 882.5,228.4C881.8,229.0 878.0,229.3 876.0,229.2C874.0,229.2 871.7,228.8 870.3,228.1C869.0,227.4 867.2,225.8 867.9,225.2Z M872.0,222.7C872.6,222.6 874.8,221.8 876.0,221.9C877.2,222.0 878.5,222.9 879.3,223.5C880.1,224.2 880.6,225.6 880.9,226.0" stroke="#808080" stroke-width="0.75"/>
<path d="M850.1,287.5C850.3,286.8 851.6,286.3 852.7,285.8C853.8,285.3 855.4,284.9 857.0,284.4C858.6,284.0 860.4,283.6 862.1,283.2C863.8,282.9 865.5,282.2 867.3,282.4C869.0,282.5 870.5,283.7 872.4,284.1C874.2,284.5 876.5,284.9 878.4,285.0C880.2,285.0 882.5,284.9 883.5,284.4C884.6,284.0 884.9,283.3 884.7,282.4C884.6,281.5 883.4,280.1 882.7,279.0C881.9,277.8 880.7,276.5 880.1,275.5C879.5,274.6 878.5,273.9 879.2,273.5C880.0,273.1 883.1,272.8 884.4,273.0C885.7,273.2 885.8,274.1 886.9,274.7C888.1,275.3 889.7,276.0 891.2,276.4C892.8,276.8 894.5,277.0 896.4,276.9C898.2,276.8 900.9,276.4 902.3,275.9C903.8,275.4 903.5,274.6 904.9,273.8C906.3,273.1 909.5,272.1 910.9,271.3C912.3,270.4 912.8,269.8 913.5,268.7C914.1,267.6 914.3,265.6 914.8,264.4C915.4,263.2 915.8,262.2 916.9,261.5C918.0,260.8 919.8,260.3 921.2,260.1C922.6,260.0 924.3,260.1 925.5,260.5C926.6,260.9 926.9,262.0 928.0,262.7C929.2,263.4 930.7,263.7 932.3,264.4C933.9,265.1 935.7,266.1 937.4,267.0C939.2,267.8 940.9,269.0 942.6,269.6C944.3,270.1 946.0,269.5 947.7,270.1C949.4,270.6 951.0,272.1 952.9,273.0C954.7,273.8 956.8,274.5 958.8,275.2C960.8,275.9 962.7,276.6 964.8,277.3C967.0,277.9 969.5,278.4 971.7,279.0C973.8,279.5 975.8,280.3 977.7,280.7C979.5,281.1 982.1,280.8 982.8,281.5C983.5,282.2 982.5,283.7 982.0,285.0C981.4,286.2 980.1,287.7 979.4,289.2C978.7,290.8 978.4,292.9 977.7,294.4C977.0,295.8 976.2,297.1 975.1,297.8C974.0,298.5 972.1,297.9 970.8,298.7C969.5,299.4 968.5,300.9 967.4,302.1C966.3,303.2 965.0,304.4 964.0,305.5C963.0,306.6 961.3,308.5 961.4,308.9C961.6,309.4 963.7,308.5 964.8,308.1C966.0,307.6 967.3,306.2 968.3,306.4C969.3,306.5 970.3,307.8 970.8,308.9C971.4,310.1 971.8,311.9 971.7,313.2C971.5,314.5 969.8,315.6 970.0,316.6C970.1,317.6 972.4,318.2 972.5,319.2C972.7,320.2 971.3,321.5 970.8,322.6C970.4,323.8 969.5,325.0 970.0,326.0C970.4,327.0 972.1,327.9 973.4,328.6C974.7,329.3 976.8,329.6 977.7,330.3C978.5,331.0 979.0,331.9 978.5,332.9C978.1,333.9 976.4,335.3 975.1,336.3C973.8,337.3 972.3,338.2 970.8,338.9C969.4,339.5 968.1,340.0 966.5,340.3C965.0,340.5 963.1,340.8 961.4,340.6C959.7,340.4 958.0,339.3 956.3,338.9C954.6,338.5 952.9,338.1 951.1,338.0C949.4,338.0 947.7,338.5 946.0,338.5C944.3,338.5 942.6,337.8 940.9,338.0C939.2,338.2 937.2,339.0 935.7,339.7C934.3,340.5 933.3,341.5 932.3,342.3C931.3,343.2 930.0,343.9 929.7,344.9C929.5,345.9 931.0,347.6 930.6,348.3C930.2,349.0 928.6,349.2 927.2,349.2C925.7,349.2 923.9,348.7 922.0,348.3C920.2,347.9 918.0,347.1 916.0,346.6C914.0,346.1 912.2,345.6 910.1,345.4C907.9,345.2 905.3,345.6 903.2,345.4C901.1,345.2 899.2,344.5 897.2,344.0C895.2,343.5 893.1,342.7 891.2,342.3C889.4,341.9 887.7,341.9 886.1,341.5C884.5,341.0 882.2,340.7 881.8,339.7C881.4,338.7 882.9,337.0 883.5,335.5C884.1,333.9 884.8,332.0 885.2,330.3C885.7,328.6 885.8,326.8 886.1,325.2C886.4,323.6 886.7,322.3 886.9,320.9C887.2,319.5 887.2,316.8 887.8,316.6C888.4,316.5 889.4,318.9 890.4,320.1C891.4,321.2 893.8,323.8 893.8,323.5C893.8,323.2 891.4,319.9 890.4,318.3C889.4,316.8 888.5,315.5 887.8,314.1C887.1,312.6 886.8,311.1 886.1,309.8C885.4,308.5 884.4,307.5 883.5,306.4C882.7,305.2 881.7,304.0 881.0,302.9C880.2,301.8 880.1,300.6 879.2,299.9C878.4,299.1 877.0,299.1 875.8,298.7C874.7,298.2 873.8,297.2 872.4,296.9C871.0,296.7 868.7,297.2 867.3,296.9C865.8,296.7 865.1,295.8 863.8,295.2C862.5,294.7 861.0,294.1 859.6,293.5C858.1,292.9 856.6,292.4 855.3,291.8C854.0,291.2 852.7,290.8 851.8,290.1C851.0,289.4 850.0,288.2 850.1,287.5Z" stroke="#808080" stroke-width="0.75"/>
<path d="M907.1,373.4C907.0,372.8 908.6,372.0 909.8,371.6C911.0,371.1 913.1,371.1 914.3,370.7C915.5,370.2 916.9,369.6 917.0,368.9C917.2,368.1 915.1,367.0 915.2,366.2C915.4,365.4 916.7,364.6 917.9,364.0C919.1,363.4 920.9,363.1 922.4,362.6C923.9,362.1 925.4,361.5 926.9,361.1C928.4,360.8 930.2,360.2 931.4,360.4C932.6,360.7 934.0,362.7 934.1,362.6C934.3,362.5 931.9,360.5 932.3,359.9C932.8,359.2 935.2,359.1 936.8,358.6C938.5,358.2 940.6,357.3 942.2,357.2C943.9,357.1 945.2,357.6 946.7,358.1C948.2,358.5 950.7,359.1 951.2,359.9C951.6,360.6 950.3,361.8 949.4,362.6C948.5,363.3 947.0,363.6 945.8,364.4C944.6,365.1 943.4,366.2 942.2,367.1C941.0,368.0 939.8,369.0 938.6,369.8C937.4,370.5 936.2,370.8 935.0,371.6C933.8,372.3 932.6,373.4 931.4,374.3C930.2,375.1 929.0,375.9 927.8,376.6C926.6,377.4 925.1,378.1 924.2,378.8C923.3,379.4 922.3,379.8 922.4,380.6C922.6,381.3 923.9,382.5 925.1,383.3C926.3,384.0 928.1,384.6 929.6,385.1C931.1,385.5 932.5,385.7 934.1,386.0C935.8,386.3 937.9,386.9 939.5,386.9C941.2,386.9 943.0,386.6 944.0,386.0C945.1,385.4 945.1,384.1 945.8,383.3C946.6,382.4 947.5,381.2 948.5,380.9C949.5,380.6 951.0,380.9 952.1,381.5C953.1,382.0 953.9,383.3 954.8,384.2C955.7,385.1 956.3,386.3 957.5,386.9C958.7,387.5 960.5,387.5 962.0,387.8C963.5,388.0 965.1,387.8 966.5,388.1C967.8,388.4 969.6,388.9 970.1,389.6C970.5,390.2 969.8,391.7 969.2,392.3C968.6,392.9 966.6,392.4 966.5,393.2C966.3,393.9 967.7,395.4 968.3,396.7C968.9,398.1 969.5,399.7 970.1,401.2C970.7,402.7 971.4,404.1 971.9,405.7C972.3,407.4 972.8,409.3 972.8,411.1C972.8,412.9 972.3,414.9 971.9,416.5C971.4,418.2 970.8,419.5 970.1,421.0C969.3,422.5 968.1,424.0 967.4,425.5C966.6,427.0 966.3,428.8 965.6,430.0C964.8,431.2 964.1,432.2 962.9,432.7C961.7,433.2 959.9,433.1 958.4,433.1C956.9,433.0 955.2,432.1 953.9,432.4C952.5,432.6 951.6,433.9 950.3,434.5C948.9,435.1 947.3,435.5 945.8,435.9C944.3,436.4 942.8,436.7 941.3,437.2C939.8,437.7 938.3,438.4 936.8,439.0C935.3,439.6 933.8,440.4 932.3,440.8C930.8,441.3 929.2,441.6 927.8,441.7C926.5,441.8 925.4,441.2 924.2,441.3C923.0,441.5 921.8,442.2 920.6,442.6C919.4,443.0 918.1,443.0 917.0,443.5C916.0,443.9 915.5,444.7 914.3,445.3C913.1,445.9 911.3,446.6 909.8,447.1C908.3,447.6 907.0,448.1 905.3,448.5C903.7,449.0 901.7,449.5 900.0,449.8C898.2,450.1 896.2,450.3 894.6,450.3C892.9,450.3 891.4,449.7 890.1,449.8C888.7,449.9 887.7,450.7 886.5,450.7C885.3,450.7 882.9,450.4 882.9,449.8C882.9,449.2 885.4,448.0 886.5,447.1C887.5,446.2 889.6,444.5 889.2,444.4C888.7,444.2 885.4,445.6 883.8,446.2C882.1,446.8 880.8,447.6 879.3,448.0C877.8,448.4 875.2,449.0 874.8,448.5C874.3,448.1 875.7,446.3 876.6,445.3C877.5,444.3 880.3,442.9 880.2,442.6C880.0,442.3 877.3,443.3 875.7,443.5C874.0,443.6 871.5,443.9 870.3,443.5C869.1,443.0 868.0,441.6 868.5,440.8C868.9,440.1 872.8,439.6 873.0,439.0C873.1,438.4 870.4,438.0 869.4,437.2C868.3,436.5 866.5,435.3 866.7,434.5C866.8,433.8 868.9,433.1 870.3,432.7C871.6,432.4 873.3,432.2 874.8,432.4C876.3,432.5 877.8,433.7 879.3,433.6C880.8,433.5 882.9,432.6 883.8,431.8C884.7,431.1 885.0,430.0 884.7,429.1C884.4,428.2 882.7,427.3 882.0,426.4C881.2,425.5 879.7,424.1 880.2,423.7C880.6,423.3 882.9,424.1 884.7,424.1C886.5,424.0 888.9,423.6 891.0,423.4C893.1,423.2 895.3,423.1 897.3,422.8C899.2,422.6 901.3,422.1 902.6,421.9C904.0,421.7 905.5,421.8 905.3,421.6C905.2,421.3 903.1,420.6 901.7,420.5C900.4,420.4 898.8,421.0 897.3,421.0C895.8,421.0 894.1,420.8 892.8,420.5C891.4,420.2 889.6,420.0 889.2,419.2C888.7,418.4 889.3,416.8 890.1,415.6C890.8,414.4 892.3,412.9 893.7,412.0C895.0,411.1 896.7,410.5 898.2,410.2C899.7,409.9 901.7,410.6 902.6,410.2C903.5,409.8 904.1,408.3 903.5,407.9C902.9,407.4 900.6,407.7 899.1,407.5C897.6,407.4 896.2,407.2 894.6,407.2C892.9,407.2 891.0,407.7 889.2,407.5C887.4,407.4 885.6,406.7 883.8,406.1C882.0,405.5 880.0,404.6 878.4,403.9C876.7,403.3 874.8,402.8 873.9,402.1C873.0,401.5 872.5,400.6 873.0,400.0C873.4,399.4 875.1,398.8 876.6,398.5C878.1,398.3 880.3,398.7 882.0,398.5C883.6,398.4 885.4,398.2 886.5,397.6C887.5,397.0 888.6,395.7 888.3,395.0C888.0,394.2 886.0,393.5 884.7,393.2C883.3,392.9 881.8,393.3 880.2,393.2C878.5,393.0 875.8,393.2 874.8,392.3C873.7,391.4 873.7,389.1 873.9,387.8C874.0,386.4 874.8,384.9 875.7,384.2C876.6,383.4 877.9,383.6 879.3,383.3C880.6,383.0 882.1,382.5 883.8,382.4C885.4,382.3 887.4,382.5 889.2,382.7C891.0,383.0 892.9,383.4 894.6,383.8C896.2,384.2 897.7,385.0 899.1,385.1C900.4,385.1 901.4,384.6 902.6,384.2C903.8,383.7 904.9,382.8 906.2,382.4C907.6,381.9 909.5,382.1 910.7,381.5C911.9,380.9 912.8,379.7 913.4,378.8C914.0,377.9 914.8,376.7 914.3,376.1C913.9,375.5 911.9,375.6 910.7,375.2C909.5,374.7 907.3,374.0 907.1,373.4Z" stroke="#808080" stroke-width="0.75"/>
<path d="M854.9,466.8C855.2,466.0 856.9,465.0 858.2,464.3C859.6,463.7 861.8,463.4 863.2,462.7C864.5,462.0 865.1,460.7 866.4,460.2C867.8,459.8 869.7,459.7 871.4,459.9C873.0,460.1 874.4,461.2 876.3,461.5C878.2,461.9 880.7,462.1 882.9,462.2C885.1,462.3 887.3,461.7 889.5,461.9C891.7,462.0 893.9,462.9 896.1,463.2C898.2,463.5 900.4,463.8 902.6,463.8C904.8,463.9 907.0,463.5 909.2,463.5C911.4,463.5 913.6,463.7 915.8,463.8C918.0,464.0 920.2,464.1 922.4,464.3C924.6,464.6 927.0,464.9 928.9,465.2C930.9,465.4 932.2,465.6 933.9,466.0C935.5,466.4 937.2,467.1 938.8,467.6C940.5,468.2 942.1,468.8 943.8,469.3C945.4,469.7 947.0,470.1 948.7,470.4C950.3,470.8 952.0,471.4 953.6,471.4C955.3,471.4 956.9,470.4 958.6,470.4C960.2,470.5 961.8,471.2 963.5,471.7C965.1,472.2 966.8,473.0 968.4,473.4C970.1,473.8 971.7,474.2 973.4,474.2C975.0,474.2 976.6,473.5 978.3,473.4C979.9,473.3 981.9,473.4 983.2,473.7C984.5,474.0 985.8,474.3 986.2,475.0C986.6,475.8 986.2,477.4 985.7,478.3C985.2,479.3 984.2,480.1 983.2,480.8C982.3,481.5 981.2,481.8 979.9,482.4C978.7,483.1 977.2,483.9 975.8,484.6C974.5,485.3 973.1,485.9 971.7,486.5C970.3,487.1 969.0,487.6 967.6,488.2C966.2,488.7 964.9,489.3 963.5,489.8C962.1,490.4 960.5,490.7 959.4,491.5C958.3,492.2 957.7,493.5 956.9,494.4C956.1,495.4 955.3,496.2 954.4,497.2C953.6,498.2 952.8,499.4 952.0,500.5C951.2,501.6 950.1,502.7 949.5,503.8C948.9,504.9 948.4,506.1 948.4,507.1C948.4,508.1 948.8,508.7 949.5,509.6C950.2,510.4 952.5,511.1 952.8,512.0C953.1,513.0 952.0,514.4 951.2,515.3C950.3,516.3 948.8,517.0 947.9,517.8C946.9,518.6 946.1,519.3 945.4,520.3C944.7,521.2 944.6,522.7 943.8,523.5C942.9,524.4 941.7,524.5 940.5,525.2C939.2,525.9 937.7,526.8 936.3,527.7C935.0,528.5 933.5,529.3 932.2,530.1C931.0,530.9 930.3,532.0 928.9,532.6C927.6,533.1 925.7,533.2 924.0,533.4C922.4,533.6 920.7,533.8 919.1,533.9C917.4,534.0 915.8,534.0 914.1,534.2C912.5,534.4 910.7,534.8 909.2,535.1C907.7,535.3 906.5,535.5 905.1,535.9C903.7,536.3 902.2,536.8 901.0,537.5C899.8,538.2 898.7,539.2 897.7,540.0C896.7,540.8 896.2,542.0 895.2,542.1C894.3,542.3 893.0,541.4 891.9,540.8C890.8,540.2 889.6,539.3 888.7,538.3C887.7,537.4 887.1,536.0 886.2,535.1C885.2,534.1 884.1,533.3 882.9,532.6C881.7,531.9 880.2,531.5 878.8,530.9C877.4,530.4 875.6,530.1 874.7,529.3C873.7,528.5 873.1,527.1 873.0,526.0C873.0,524.9 873.7,523.8 874.3,522.7C875.0,521.6 876.8,520.5 877.1,519.4C877.5,518.3 876.7,517.2 876.3,516.1C875.9,515.0 874.7,514.0 874.7,512.9C874.7,511.8 876.2,510.7 876.3,509.6C876.5,508.5 876.0,507.2 875.5,506.3C874.9,505.3 873.2,504.8 873.0,503.8C872.9,502.8 873.7,501.5 874.7,500.5C875.6,499.6 878.2,499.1 878.8,498.1C879.3,497.0 877.8,495.2 878.0,493.9C878.1,492.7 878.8,491.7 879.6,490.7C880.4,489.6 882.1,488.5 882.9,487.4C883.7,486.3 884.1,485.0 884.5,484.1C885.0,483.1 885.9,482.2 885.4,481.6C884.8,481.1 882.8,481.0 881.2,480.8C879.7,480.6 878.0,480.4 876.3,480.3C874.7,480.2 873.0,480.2 871.4,480.0C869.7,479.8 868.0,479.4 866.4,479.1C864.9,478.9 863.6,478.7 862.3,478.3C861.1,477.9 859.3,477.4 859.0,476.7C858.8,476.0 860.8,475.0 860.7,474.2C860.6,473.4 858.9,472.6 858.2,471.7C857.5,470.9 857.1,470.1 856.6,469.3C856.0,468.4 854.7,467.6 854.9,466.8Z M976.6,503.8C976.9,503.1 979.5,501.6 980.8,501.0C982.0,500.5 982.9,500.2 984.0,500.5C985.1,500.8 987.2,502.0 987.3,503.0C987.5,503.9 985.8,505.6 984.9,506.3C983.9,507.0 982.5,507.2 981.6,507.1C980.6,507.0 979.9,506.0 979.1,505.5C978.3,504.9 976.4,504.5 976.6,503.8Z M991.1,499.4C991.5,499.0 993.9,498.7 994.7,498.9C995.6,499.1 996.5,500.2 996.1,500.5C995.6,500.8 993.1,501.0 992.3,500.8C991.4,500.7 990.7,499.7 991.1,499.4Z M965.1,509.6C965.5,509.1 967.1,508.5 967.6,508.7C968.1,509.0 968.6,510.5 968.4,511.2C968.2,511.9 967.0,512.8 966.4,512.9C965.9,512.9 965.4,512.1 965.1,511.5C964.9,511.0 964.7,510.0 965.1,509.6Z" stroke="#808080" stroke-width="0.75"/>
</g>
<g id="text" text-rendering="geometricPrecision">
<text id="t0" x="186.50" y="145.20" font-size="13.91" font-weight="bold" text-anchor="end" textLength="145.60" lengthAdjust="spacingAndGlyphs" fill="#3a3a3a">UK NATIONAL DEMAND</text>
<text id="t1" x="186.50" y="161.60" font-size="13.91" font-weight="bold" text-anchor="end" textLength="72.50" lengthAdjust="spacingAndGlyphs" fill="#3a3a3a">2008 – 2017</text>
<text id="t2" x="186.75" y="177.60" font-size="13.91" font-weight="bold" text-anchor="end" textLength="104.50" lengthAdjust="spacingAndGlyphs" fill="#3a3a3a">(trend over time)</text>
<text id="t3" x="186.50" y="210.40" font-size="13.91" font-weight="bold" text-anchor="end" textLength="129.25" lengthAdjust="spacingAndGlyphs" fill="#3a3a3a">AVERAGE NATIONAL</text>
<text id="t4" x="186.50" y="226.80" font-size="13.91" font-weight="bold" text-anchor="end" textLength="132.55" lengthAdjust="spacingAndGlyphs" fill="#3a3a3a">DEMAND 2008 – 2017</text>
<text id="t5" x="186.75" y="243.20" font-size="13.91" font-weight="bold" text-anchor="end" textLength="107.50" lengthAdjust="spacingAndGlyphs" fill="#3a3a3a">(tonnes per year)</text>
<text id="t6" x="186.50" y="273.30" font-size="13.91" font-weight="bold" text-anchor="end" textLength="157.35" lengthAdjust="spacingAndGlyphs" fill="#3a3a3a">AVERAGE AQUACULTURE</text>
<text id="t7" x="186.50" y="289.60" font-size="13.91" font-weight="bold" text-anchor="end" textLength="116.70" lengthAdjust="spacingAndGlyphs" fill="#3a3a3a">PRODUCTION AS A</text>
<text id="t8" x="186.50" y="305.90" font-size="13.91" font-weight="bold" text-anchor="end" textLength="105.20" lengthAdjust="spacingAndGlyphs" fill="#3a3a3a">PERCENTAGE OF</text>
<text id="t9" x="186.50" y="322.20" font-size="13.91" font-weight="bold" text-anchor="end" textLength="129.25" lengthAdjust="spacingAndGlyphs" fill="#3a3a3a">AVERAGE NATIONAL</text>
<text id="t10" x="186.75" y="338.50" font-size="13.91" font-weight="bold" text-anchor="end" textLength="78.80" lengthAdjust="spacingAndGlyphs" fill="#3a3a3a">DEMAND (%)</text>
<text id="t11" x="186.50" y="365.60" font-size="13.91" font-weight="bold" text-anchor="end" textLength="106.55" lengthAdjust="spacingAndGlyphs" fill="#3a3a3a">EXPORT VOLUME</text>
<text id="t12" x="186.50" y="381.80" font-size="13.91" font-weight="bold" text-anchor="end" textLength="70.65" lengthAdjust="spacingAndGlyphs" fill="#3a3a3a">2002 - 2019</text>
<text id="t13" x="186.75" y="398.00" font-size="13.91" font-weight="bold" text-anchor="end" textLength="104.50" lengthAdjust="spacingAndGlyphs" fill="#3a3a3a">(trend over time)</text>
<text id="t14" x="186.25" y="426.80" font-size="13.91" font-weight="bold" text-anchor="end" textLength="113.15" lengthAdjust="spacingAndGlyphs" fill="#3a3a3a">AVERAGE EXPORT</text>
<text id="t15" x="186.50" y="443.20" font-size="13.91" font-weight="bold" text-anchor="end" textLength="126.65" lengthAdjust="spacingAndGlyphs" fill="#3a3a3a">VOLUME 2002 - 2019</text>
<text id="t16" x="186.75" y="459.40" font-size="13.91" font-weight="bold" text-anchor="end" textLength="51.50" lengthAdjust="spacingAndGlyphs" fill="#3a3a3a">(tonnes)</text>
<text id="t17" x="186.50" y="493.60" font-size="13.91" font-weight="bold" text-anchor="end" textLength="95.90" lengthAdjust="spacingAndGlyphs" fill="#3a3a3a">EXPORT VALUE</text>
<text id="t18" x="186.75" y="509.60" font-size="13.91" font-weight="bold" text-anchor="end" textLength="104.50" lengthAdjust="spacingAndGlyphs" fill="#3a3a3a">(trend over time)</text>
<text id="t19" x="186.50" y="542.50" font-size="13.91" font-weight="bold" text-anchor="end" textLength="159.20" lengthAdjust="spacingAndGlyphs" fill="#3a3a3a">AVERAGE EXPORT VALUE</text>
<text id="t20" x="186.75" y="558.60" font-size="13.91" font-weight="bold" text-anchor="end" textLength="81.20" lengthAdjust="spacingAndGlyphs" fill="#3a3a3a">(£ per tonne)</text>
<text id="t21" x="212.00" y="229.30" font-size="23.19" font-weight="bold" fill="#2b2b2b"><tspan textLength="8.58" lengthAdjust="spacingAndGlyphs">1</tspan><tspan textLength="11.91" lengthAdjust="spacingAndGlyphs">9</tspan><tspan textLength="5.12" lengthAdjust="spacingAndGlyphs">,</tspan><tspan textLength="11.91" lengthAdjust="spacingAndGlyphs">6</tspan><tspan textLength="11.91" lengthAdjust="spacingAndGlyphs">7</tspan><tspan textLength="11.91" lengthAdjust="spacingAndGlyphs">9</tspan><tspan textLength="11.91" lengthAdjust="spacingAndGlyphs">T</tspan></text>
<text id="t22" x="225.55" y="309.20" font-size="23.48" font-weight="bold" fill="#2b2b2b"><tspan textLength="8.70" lengthAdjust="spacingAndGlyphs">1</tspan><tspan textLength="8.70" lengthAdjust="spacingAndGlyphs">1</tspan><tspan textLength="12.09" lengthAdjust="spacingAndGlyphs">9</tspan><tspan textLength="14.51" lengthAdjust="spacingAndGlyphs">%</tspan></text>
<text id="t23" x="211.50" y="446.40" font-size="23.19" font-weight="bold" fill="#2b2b2b"><tspan textLength="8.64" lengthAdjust="spacingAndGlyphs">1</tspan><tspan textLength="12.00" lengthAdjust="spacingAndGlyphs">0</tspan><tspan textLength="5.16" lengthAdjust="spacingAndGlyphs">,</tspan><tspan textLength="12.00" lengthAdjust="spacingAndGlyphs">3</tspan><tspan textLength="12.00" lengthAdjust="spacingAndGlyphs">7</tspan><tspan textLength="12.00" lengthAdjust="spacingAndGlyphs">3</tspan><tspan textLength="12.00" lengthAdjust="spacingAndGlyphs">T</tspan></text>
<text id="t24" x="216.90" y="561.70" font-size="23.48" font-weight="bold" fill="#2b2b2b"><tspan textLength="13.78" lengthAdjust="spacingAndGlyphs">£</tspan><tspan textLength="8.63" lengthAdjust="spacingAndGlyphs">1</tspan><tspan textLength="5.15" lengthAdjust="spacingAndGlyphs">,</tspan><tspan textLength="11.98" lengthAdjust="spacingAndGlyphs">5</tspan><tspan textLength="11.98" lengthAdjust="spacingAndGlyphs">6</tspan><tspan textLength="11.98" lengthAdjust="spacingAndGlyphs">3</tspan></text>
<text id="t25" x="120.50" y="25.90" font-size="19.57" font-weight="normal" text-anchor="start" textLength="257.00" lengthAdjust="spacingAndGlyphs" fill="#333" stroke="#333" stroke-width="0.8" stroke-linejoin="miter">AQUACULTURE DEMAND</text>
<text id="t26" x="169.50" y="72.20" font-size="39.86" font-weight="normal" text-anchor="start" textLength="157.50" lengthAdjust="spacingAndGlyphs" fill="#2d2d2d" stroke="#2d2d2d" stroke-width="1.4" stroke-linejoin="miter">MUSSEL</text>
<text id="t27" x="224.95" y="101.80" font-size="13.62" font-weight="bold" text-anchor="start" textLength="47.05" lengthAdjust="spacingAndGlyphs" fill="#3a3a3a">UNITED</text>
<text id="t28" x="218.75" y="118.00" font-size="13.62" font-weight="bold" text-anchor="start" textLength="60.00" lengthAdjust="spacingAndGlyphs" fill="#3a3a3a">KINGDOM</text>
<text id="t29" x="635.75" y="48.80" font-size="22.46" font-weight="bold" text-anchor="start" textLength="350.30" lengthAdjust="spacingAndGlyphs" fill="#2b2b2b">UK MUSSEL EXPORTS 2002 – 2019</text>
<text id="t30" x="500.25" y="92.60" font-size="13.91" font-weight="bold" text-anchor="start" textLength="117.95" lengthAdjust="spacingAndGlyphs" fill="#222">AVERAGE ANNUAL</text>
<text id="t31" x="500.25" y="109.00" font-size="13.91" font-weight="bold" text-anchor="start" textLength="61.90" lengthAdjust="spacingAndGlyphs" fill="#222">VALUE OF</text>
<text id="t32" x="499.75" y="125.40" font-size="13.91" font-weight="bold" text-anchor="start" textLength="57.55" lengthAdjust="spacingAndGlyphs" fill="#222">EXPORTS</text>
<text id="t33" x="499.75" y="141.80" font-size="13.91" font-weight="bold" text-anchor="start" textLength="51.35" lengthAdjust="spacingAndGlyphs" fill="#222">(£ Total)</text>
<text id="t34" x="634.95" y="92.60" font-size="13.91" font-weight="bold" text-anchor="start" textLength="60.05" lengthAdjust="spacingAndGlyphs" fill="#222">AVERAGE</text>
<text id="t35" x="634.45" y="109.00" font-size="13.91" font-weight="bold" text-anchor="start" textLength="67.80" lengthAdjust="spacingAndGlyphs" fill="#222">PRICE PER</text>
<text id="t36" x="635.20" y="125.40" font-size="13.91" font-weight="bold" text-anchor="start" textLength="43.00" lengthAdjust="spacingAndGlyphs" fill="#222">TONNE</text>
<text id="t37" x="728.30" y="92.60" font-size="13.91" font-weight="bold" text-anchor="start" textLength="116.00" lengthAdjust="spacingAndGlyphs" fill="#222">AVERAGE VOLUME</text>
<text id="t38" x="727.80" y="109.00" font-size="13.91" font-weight="bold" text-anchor="start" textLength="66.35" lengthAdjust="spacingAndGlyphs" fill="#222">EXPORTED</text>
<text id="t39" x="728.05" y="125.40" font-size="13.91" font-weight="bold" text-anchor="start" textLength="50.70" lengthAdjust="spacingAndGlyphs" fill="#222">(tonnes)</text>
<text id="t40" x="863.10" y="92.60" font-size="13.91" font-weight="bold" text-anchor="start" textLength="59.75" lengthAdjust="spacingAndGlyphs" fill="#222">AVERAGE</text>
<text id="t41" x="862.60" y="109.00" font-size="13.91" font-weight="bold" text-anchor="start" textLength="65.10" lengthAdjust="spacingAndGlyphs" fill="#222">NATIONAL</text>
<text id="t42" x="862.60" y="125.40" font-size="13.91" font-weight="bold" text-anchor="start" textLength="55.55" lengthAdjust="spacingAndGlyphs" fill="#222">DEMAND</text>
<text id="t43" x="973.05" y="92.60" font-size="13.91" font-weight="bold" text-anchor="start" textLength="60.35" lengthAdjust="spacingAndGlyphs" fill="#222">TREND IN</text>
<text id="t44" x="972.30" y="109.00" font-size="13.91" font-weight="bold" text-anchor="start" textLength="65.20" lengthAdjust="spacingAndGlyphs" fill="#222">NATIONAL</text>
<text id="t45" x="972.30" y="125.40" font-size="13.91" font-weight="bold" text-anchor="start" textLength="92.30" lengthAdjust="spacingAndGlyphs" fill="#222">DEMAND (over</text>
<text id="t46" x="973.05" y="141.80" font-size="13.91" font-weight="bold" text-anchor="start" textLength="31.70" lengthAdjust="spacingAndGlyphs" fill="#222">time)</text>
<text id="t47" x="500.75" y="193.62" font-size="22.10" font-weight="bold" fill="#222426" stroke="#222426" stroke-width="0.75" stroke-linejoin="miter"><tspan textLength="13.94" lengthAdjust="spacingAndGlyphs">£</tspan><tspan textLength="12.12" lengthAdjust="spacingAndGlyphs">6</tspan><tspan textLength="5.21" lengthAdjust="spacingAndGlyphs">,</tspan><tspan textLength="12.12" lengthAdjust="spacingAndGlyphs">3</tspan><tspan textLength="12.12" lengthAdjust="spacingAndGlyphs">6</tspan><tspan textLength="12.12" lengthAdjust="spacingAndGlyphs">5</tspan><tspan textLength="5.21" lengthAdjust="spacingAndGlyphs">,</tspan><tspan textLength="12.12" lengthAdjust="spacingAndGlyphs">0</tspan><tspan textLength="12.12" lengthAdjust="spacingAndGlyphs">5</tspan><tspan textLength="8.73" lengthAdjust="spacingAndGlyphs">1</tspan></text>
<text id="t48" x="632.65" y="222.62" font-size="19.78" font-weight="bold" fill="#222426" stroke="#222426" stroke-width="0.75" stroke-linejoin="miter"><tspan textLength="12.07" lengthAdjust="spacingAndGlyphs">£</tspan><tspan textLength="10.49" lengthAdjust="spacingAndGlyphs">8</tspan><tspan textLength="10.49" lengthAdjust="spacingAndGlyphs">6</tspan><tspan textLength="10.49" lengthAdjust="spacingAndGlyphs">7</tspan></text>
<text id="t49" x="700.40" y="248.82" font-size="23.55" font-weight="bold" fill="#222426" stroke="#222426" stroke-width="0.75" stroke-linejoin="miter"><tspan textLength="12.73" lengthAdjust="spacingAndGlyphs">7</tspan><tspan textLength="5.48" lengthAdjust="spacingAndGlyphs">,</tspan><tspan textLength="12.73" lengthAdjust="spacingAndGlyphs">5</tspan><tspan textLength="12.73" lengthAdjust="spacingAndGlyphs">4</tspan><tspan textLength="9.17" lengthAdjust="spacingAndGlyphs">1</tspan></text>
<text id="t50" x="500.60" y="305.12" font-size="22.10" font-weight="bold" fill="#222426" stroke="#222426" stroke-width="0.75" stroke-linejoin="miter"><tspan textLength="13.91" lengthAdjust="spacingAndGlyphs">£</tspan><tspan textLength="8.71" lengthAdjust="spacingAndGlyphs">1</tspan><tspan textLength="5.20" lengthAdjust="spacingAndGlyphs">,</tspan><tspan textLength="12.09" lengthAdjust="spacingAndGlyphs">3</tspan><tspan textLength="12.09" lengthAdjust="spacingAndGlyphs">3</tspan><tspan textLength="8.71" lengthAdjust="spacingAndGlyphs">1</tspan><tspan textLength="5.20" lengthAdjust="spacingAndGlyphs">,</tspan><tspan textLength="12.09" lengthAdjust="spacingAndGlyphs">0</tspan><tspan textLength="12.09" lengthAdjust="spacingAndGlyphs">4</tspan><tspan textLength="12.09" lengthAdjust="spacingAndGlyphs">2</tspan></text>
<text id="t51" x="628.95" y="314.23" font-size="19.78" font-weight="bold" fill="#222426" stroke="#222426" stroke-width="0.75" stroke-linejoin="miter"><tspan textLength="12.43" lengthAdjust="spacingAndGlyphs">£</tspan><tspan textLength="7.78" lengthAdjust="spacingAndGlyphs">1</tspan><tspan textLength="4.65" lengthAdjust="spacingAndGlyphs">,</tspan><tspan textLength="10.81" lengthAdjust="spacingAndGlyphs">0</tspan><tspan textLength="10.81" lengthAdjust="spacingAndGlyphs">0</tspan><tspan textLength="10.81" lengthAdjust="spacingAndGlyphs">4</tspan></text>
<text id="t52" x="701.10" y="325.23" font-size="23.55" font-weight="bold" fill="#222426" stroke="#222426" stroke-width="0.75" stroke-linejoin="miter"><tspan textLength="9.17" lengthAdjust="spacingAndGlyphs">1</tspan><tspan textLength="5.48" lengthAdjust="spacingAndGlyphs">,</tspan><tspan textLength="12.73" lengthAdjust="spacingAndGlyphs">6</tspan><tspan textLength="12.73" lengthAdjust="spacingAndGlyphs">0</tspan><tspan textLength="12.73" lengthAdjust="spacingAndGlyphs">7</tspan></text>
<text id="t53" x="500.45" y="431.23" font-size="22.39" font-weight="bold" fill="#222426" stroke="#222426" stroke-width="0.75" stroke-linejoin="miter"><tspan textLength="13.88" lengthAdjust="spacingAndGlyphs">£</tspan><tspan textLength="12.07" lengthAdjust="spacingAndGlyphs">8</tspan><tspan textLength="12.07" lengthAdjust="spacingAndGlyphs">3</tspan><tspan textLength="12.07" lengthAdjust="spacingAndGlyphs">2</tspan><tspan textLength="5.19" lengthAdjust="spacingAndGlyphs">,</tspan><tspan textLength="12.07" lengthAdjust="spacingAndGlyphs">6</tspan><tspan textLength="12.07" lengthAdjust="spacingAndGlyphs">9</tspan><tspan textLength="12.07" lengthAdjust="spacingAndGlyphs">7</tspan></text>
<text id="t54" x="629.80" y="420.82" font-size="19.78" font-weight="bold" fill="#222426" stroke="#222426" stroke-width="0.75" stroke-linejoin="miter"><tspan textLength="11.90" lengthAdjust="spacingAndGlyphs">£</tspan><tspan textLength="7.45" lengthAdjust="spacingAndGlyphs">1</tspan><tspan textLength="4.45" lengthAdjust="spacingAndGlyphs">,</tspan><tspan textLength="10.35" lengthAdjust="spacingAndGlyphs">3</tspan><tspan textLength="7.45" lengthAdjust="spacingAndGlyphs">1</tspan><tspan textLength="10.35" lengthAdjust="spacingAndGlyphs">6</tspan></text>
<text id="t55" x="697.90" y="415.93" font-size="23.55" font-weight="bold" fill="#222426" stroke="#222426" stroke-width="0.75" stroke-linejoin="miter"><tspan textLength="9.00" lengthAdjust="spacingAndGlyphs">1</tspan><tspan textLength="5.38" lengthAdjust="spacingAndGlyphs">,</tspan><tspan textLength="12.51" lengthAdjust="spacingAndGlyphs">0</tspan><tspan textLength="12.51" lengthAdjust="spacingAndGlyphs">7</tspan><tspan textLength="9.00" lengthAdjust="spacingAndGlyphs">1</tspan></text>
<text id="t56" x="500.45" y="544.12" font-size="22.39" font-weight="bold" fill="#222426" stroke="#222426" stroke-width="0.75" stroke-linejoin="miter"><tspan textLength="14.19" lengthAdjust="spacingAndGlyphs">£</tspan><tspan textLength="12.34" lengthAdjust="spacingAndGlyphs">3</tspan><tspan textLength="12.34" lengthAdjust="spacingAndGlyphs">8</tspan><tspan textLength="12.34" lengthAdjust="spacingAndGlyphs">6</tspan><tspan textLength="5.30" lengthAdjust="spacingAndGlyphs">,</tspan><tspan textLength="12.34" lengthAdjust="spacingAndGlyphs">4</tspan><tspan textLength="12.34" lengthAdjust="spacingAndGlyphs">4</tspan><tspan textLength="12.34" lengthAdjust="spacingAndGlyphs">2</tspan></text>
<text id="t57" x="629.90" y="505.43" font-size="20.07" font-weight="bold" fill="#222426" stroke="#222426" stroke-width="0.75" stroke-linejoin="miter"><tspan textLength="12.62" lengthAdjust="spacingAndGlyphs">£</tspan><tspan textLength="10.98" lengthAdjust="spacingAndGlyphs">3</tspan><tspan textLength="4.72" lengthAdjust="spacingAndGlyphs">,</tspan><tspan textLength="10.98" lengthAdjust="spacingAndGlyphs">2</tspan><tspan textLength="10.98" lengthAdjust="spacingAndGlyphs">2</tspan><tspan textLength="10.98" lengthAdjust="spacingAndGlyphs">0</tspan></text>
<text id="t58" x="701.60" y="491.43" font-size="23.26" font-weight="bold" fill="#222426" stroke="#222426" stroke-width="0.75" stroke-linejoin="miter"><tspan textLength="9.36" lengthAdjust="spacingAndGlyphs">1</tspan><tspan textLength="13.00" lengthAdjust="spacingAndGlyphs">5</tspan><tspan textLength="13.00" lengthAdjust="spacingAndGlyphs">4</tspan></text>
<text id="t59" x="906.65" y="223.18" font-size="22.54" font-weight="bold" fill="#222" stroke="#222" stroke-width="0.65" stroke-linejoin="miter"><tspan textLength="12.46" lengthAdjust="spacingAndGlyphs">2</tspan><tspan textLength="12.46" lengthAdjust="spacingAndGlyphs">6</tspan><tspan textLength="10.59" lengthAdjust="spacingAndGlyphs">k</tspan></text>
<text id="t60" x="903.30" y="312.68" font-size="22.25" font-weight="bold" fill="#222" stroke="#222" stroke-width="0.65" stroke-linejoin="miter"><tspan textLength="8.90" lengthAdjust="spacingAndGlyphs">1</tspan><tspan textLength="12.37" lengthAdjust="spacingAndGlyphs">0</tspan><tspan textLength="12.37" lengthAdjust="spacingAndGlyphs">7</tspan><tspan textLength="10.51" lengthAdjust="spacingAndGlyphs">k</tspan></text>
<text id="t61" x="917.60" y="419.18" font-size="22.54" font-weight="bold" fill="#222" stroke="#222" stroke-width="0.65" stroke-linejoin="miter"><tspan textLength="13.27" lengthAdjust="spacingAndGlyphs">8</tspan><tspan textLength="11.28" lengthAdjust="spacingAndGlyphs">k</tspan></text>
<text id="t62" x="894.90" y="506.68" font-size="22.25" font-weight="bold" fill="#222" stroke="#222" stroke-width="0.65" stroke-linejoin="miter"><tspan textLength="8.84" lengthAdjust="spacingAndGlyphs">1</tspan><tspan textLength="12.28" lengthAdjust="spacingAndGlyphs">6</tspan><tspan textLength="12.28" lengthAdjust="spacingAndGlyphs">2</tspan><tspan textLength="10.44" lengthAdjust="spacingAndGlyphs">k</tspan></text>
</g>
</svg>
</body>
</html>
